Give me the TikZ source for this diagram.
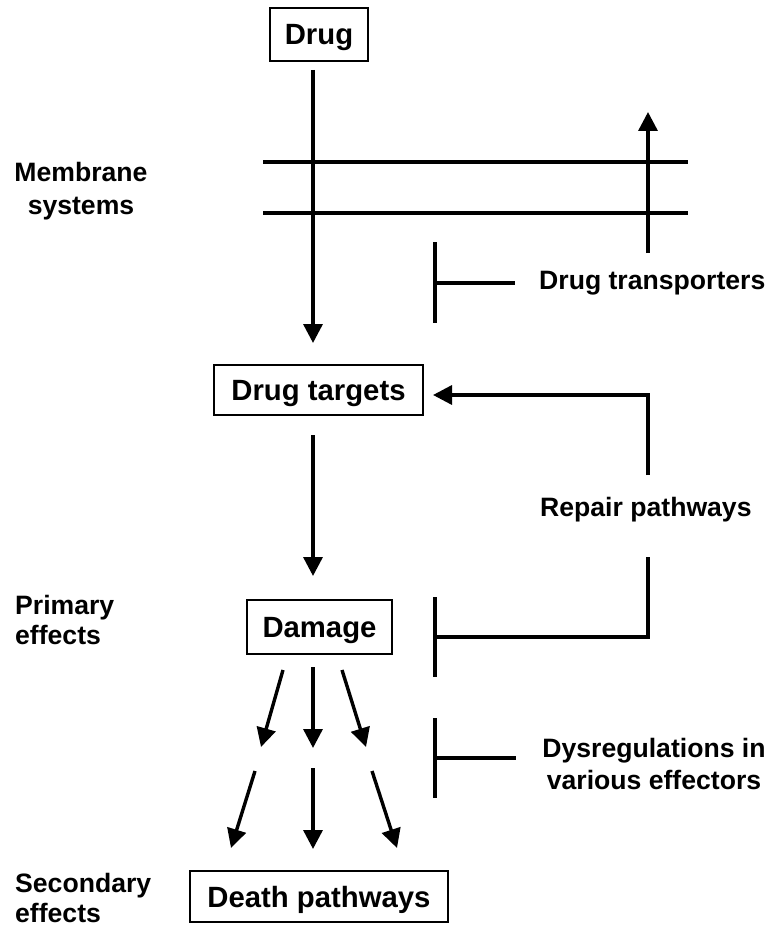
\documentclass[tikz,border=0pt]{standalone}
\usepackage{fontspec}
\setmainfont{Liberation Sans}
\usetikzlibrary{arrows.meta}
\begin{document}
\begin{tikzpicture}[x=1pt,y=-1pt,
  box/.style={draw, line width=2.8pt, inner sep=0pt, text depth=0pt, font=\bfseries\fontsize{29.3}{34}\selectfont},
  lbl/.style={font=\bfseries\fontsize{26.6}{32}\selectfont, inner sep=0pt},
  ln/.style={line width=3.4pt},
  arr/.style={line width=3.4pt, -{Triangle[length=19pt,width=19pt]}}]
\useasboundingbox (0,0) rectangle (771,928);
% boxes
\node[box, minimum width=98pt, minimum height=53pt] (drug) at (319,34.5) {Drug};
\node[box, minimum width=209pt, minimum height=50pt] (targets) at (318.5,390) {Drug targets};
\node[box, minimum width=145pt, minimum height=54pt] (damage) at (319.5,627) {Damage};
\node[box, minimum width=258pt, minimum height=51pt] (death) at (319,896.5) {Death pathways};
% labels
\node[lbl, align=center, font=\bfseries\fontsize{26.6}{33}\selectfont] (memb) at (81,191.5) {Membrane\\systems};
\node[lbl, align=left, anchor=west, font=\bfseries\fontsize{26.6}{30}\selectfont] (prim) at (15,620) {Primary\\effects};
\node[lbl, align=left, anchor=west, font=\bfseries\fontsize{26.6}{30}\selectfont] (sec) at (15,898) {Secondary\\effects};
\node[lbl, anchor=west] (trans) at (539,283) {Drug transporters};
\node[lbl, anchor=west] (repair) at (540,510) {Repair pathways};
\node[lbl, align=center] (dysreg) at (654,764) {Dysregulations in\\various effectors};
% membrane lines
\coordinate (m1a) at (263,162); \coordinate (m1b) at (688,162);
\coordinate (m2a) at (263,213); \coordinate (m2b) at (688,213);
\draw[ln] (m1a) -- (m1b);
\draw[ln] (m2a) -- (m2b);
% drug -> targets
\coordinate (d1) at (313,70); \coordinate (d2) at (313,343);
\draw[arr] (d1) -- (d2);
% efflux arrow
\coordinate (e1) at (648,253); \coordinate (e2) at (648,112);
\draw[arr] (e1) -- (e2);
% transporter inhibition
\coordinate (tb1) at (435,242); \coordinate (tb2) at (435,323);
\coordinate (tbm) at (435,283); \coordinate (tbe) at (515,283);
\draw[ln] (tb1) -- (tb2);
\draw[ln] (tbm) -- (tbe);
% targets -> damage
\coordinate (t1) at (313,435); \coordinate (t2) at (313,576);
\draw[arr] (t1) -- (t2);
% repair arrow
\coordinate (r1) at (648,475); \coordinate (rc) at (648,395); \coordinate (r2) at (433,395);
\draw[arr] (r1) -- (rc) -- (r2);
% repair inhibition of damage
\coordinate (q1) at (648,557); \coordinate (qc) at (648,637); \coordinate (q2) at (435,637);
\coordinate (qb1) at (435,597); \coordinate (qb2) at (435,677);
\draw[ln] (q1) -- (qc) -- (q2);
\draw[ln] (qb1) -- (qb2);
% dysregulation bar
\coordinate (db1) at (435,718); \coordinate (db2) at (435,798);
\coordinate (dbm) at (435,758); \coordinate (dbe) at (516,758);
\draw[ln] (db1) -- (db2);
\draw[ln] (dbm) -- (dbe);
% row 1 arrows
\coordinate (a1s) at (283,670); \coordinate (a1e) at (261,747);
\coordinate (a2s) at (313,667); \coordinate (a2e) at (313,748);
\coordinate (a3s) at (342,670); \coordinate (a3e) at (366,747);
\draw[arr] (a1s) -- (a1e);
\draw[arr] (a2s) -- (a2e);
\draw[arr] (a3s) -- (a3e);
% row 2 arrows
\coordinate (b1s) at (255,771); \coordinate (b1e) at (231,848);
\coordinate (b2s) at (313,768); \coordinate (b2e) at (313,849);
\coordinate (b3s) at (372,771); \coordinate (b3e) at (397,848);
\draw[arr] (b1s) -- (b1e);
\draw[arr] (b2s) -- (b2e);
\draw[arr] (b3s) -- (b3e);
\end{tikzpicture}
\end{document}
